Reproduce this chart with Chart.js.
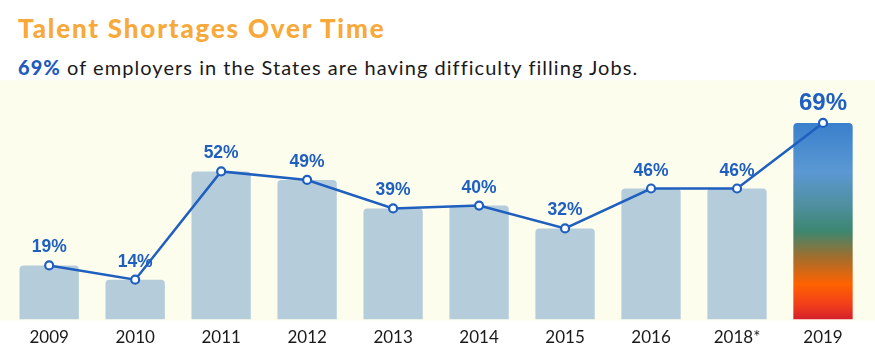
<!DOCTYPE html>
<html>
<head>
<meta charset="utf-8">
<script src="https://cdn.jsdelivr.net/npm/chart.js@4.4.0/dist/chart.umd.min.js"></script>
<style>
  html, body { margin: 0; padding: 0; background: #ffffff; }
  body { width: 875px; height: 356px; position: relative; overflow: hidden; }
  #title { position: absolute; left: 18px; top: 12px; font-family: "Lato", sans-serif; font-weight: 900; font-size: 26px; color: #f7a93a; white-space: nowrap; letter-spacing: 1.8px; }
  #subtitle { position: absolute; left: 18px; top: 55px; font-family: "Lato", sans-serif; font-weight: 400; font-size: 20px; color: #1a1a1a; white-space: nowrap; letter-spacing: 1.05px; }
  #subtitle b { color: #1f5bbd; font-weight: 900; }
  #wrap { position: absolute; left: 0; top: 74px; width: 875px; height: 282px; }
</style>
</head>
<body>
<div id="title">Talent Shortages Over Time</div>
<div id="subtitle"><b>69%</b> of employers in the States are having difficulty filling Jobs.</div>
<div id="wrap"><canvas id="c"></canvas></div>
<script>
const categories = ["2009", "2010", "2011", "2012", "2013", "2014", "2015", "2016", "2018*", "2019"];
const shortagePct = [19, 14, 52, 49, 39, 40, 32, 46, 46, 69];
const valueLabels = ["19%", "14%", "52%", "49%", "39%", "40%", "32%", "46%", "46%", "69%"];

const BAR_COLOR = "#b5cddb";
const LINE_COLOR = "#1f5fbf";

function lastBarGradient(ctx) {
  const chart = ctx.chart;
  const area = chart.chartArea;
  if (!area) return BAR_COLOR;
  const y = chart.scales.y;
  const top = y.getPixelForValue(shortagePct[shortagePct.length - 1]);
  const bottom = y.getPixelForValue(0);
  const g = chart.ctx.createLinearGradient(0, top, 0, bottom);
  g.addColorStop(0.0, "#3a80cc");
  g.addColorStop(0.25, "#5b98d3");
  g.addColorStop(0.42, "#4f8f9f");
  g.addColorStop(0.55, "#3c8770");
  g.addColorStop(0.68, "#a06e2e");
  g.addColorStop(0.82, "#ff6200");
  g.addColorStop(0.92, "#f2401a");
  g.addColorStop(1.0, "#d41f2b");
  return g;
}

const creamBg = {
  id: "creamBg",
  beforeDraw(chart) {
    const { ctx, chartArea } = chart;
    ctx.save();
    ctx.fillStyle = "#fdfdee";
    ctx.fillRect(0, chartArea.top, chart.width, chartArea.bottom - chartArea.top + 1);
    ctx.restore();
  }
};

const valueLabelPlugin = {
  id: "valueLabels",
  afterDatasetsDraw(chart) {
    const meta = chart.getDatasetMeta(1);
    const ctx = chart.ctx;
    ctx.save();
    ctx.fillStyle = LINE_COLOR;
    ctx.textAlign = "center";
    ctx.textBaseline = "alphabetic";
    meta.data.forEach((pt, i) => {
      const last = i === meta.data.length - 1;
      ctx.font = (last ? "bold 24px" : "bold 17.5px") + " 'Liberation Sans', Arial, sans-serif";
      ctx.fillText(valueLabels[i], pt.x, pt.y - 13);
    });
    ctx.restore();
  }
};

new Chart(document.getElementById("c"), {
  data: {
    labels: categories,
    datasets: [
      {
        type: "bar",
        data: shortagePct,
        order: 2,
        backgroundColor: (ctx) => ctx.dataIndex === shortagePct.length - 1 ? lastBarGradient(ctx) : BAR_COLOR,
        borderRadius: { topLeft: 4, topRight: 4, bottomLeft: 0, bottomRight: 0 },
        borderSkipped: false,
        categoryPercentage: 1,
        barPercentage: 0.69
      },
      {
        type: "line",
        data: shortagePct,
        order: 1,
        borderColor: LINE_COLOR,
        borderWidth: 2.5,
        tension: 0,
        pointRadius: 4,
        pointBorderWidth: 2.2,
        pointBackgroundColor: "#ffffff",
        pointBorderColor: LINE_COLOR
      }
    ]
  },
  options: {
    responsive: true,
    maintainAspectRatio: false,
    animation: false,
    layout: { padding: { left: 5, right: 9, top: 0, bottom: 8 } },
    plugins: { legend: { display: false }, tooltip: { enabled: false } },
    scales: {
      x: {
        grid: { display: false },
        border: { display: false },
        ticks: { color: "#1a1a1a", font: { family: "'Lato', sans-serif", size: 17 }, padding: 0, maxRotation: 0 }
      },
      y: { display: false, min: 0, max: 84 }
    }
  },
  plugins: [creamBg, valueLabelPlugin]
});
</script>
</body>
</html>
